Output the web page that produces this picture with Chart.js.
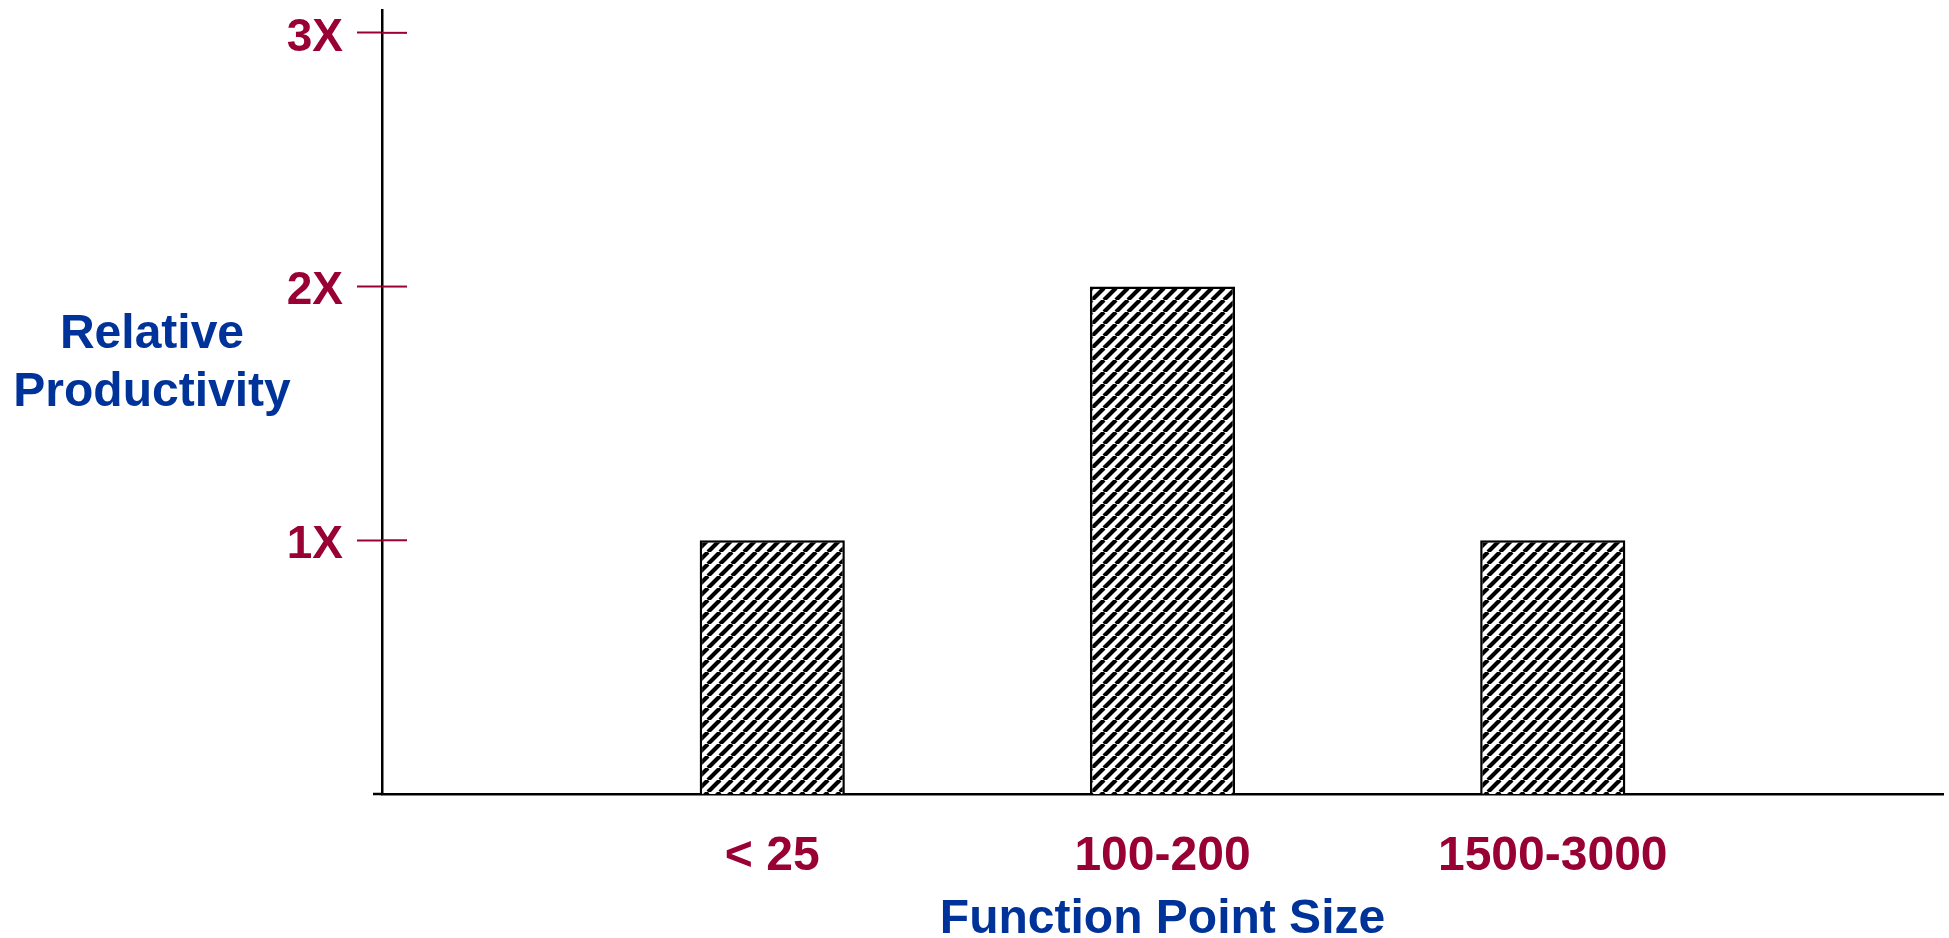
<!DOCTYPE html>
<html>
<head>
<meta charset="utf-8">
<script src="https://cdn.jsdelivr.net/npm/chart.js@4/dist/chart.umd.min.js"></script>
<style>
  html, body { margin: 0; padding: 0; background: #fff; }
</style>
</head>
<body>
<canvas id="chart" width="1949" height="938"></canvas>
<script>
// Data
const categories = ['', '< 25', '100-200', '1500-3000', ''];
const productivity = [null, 1, 2, 1, null];
const yTickValues = [1, 2, 3];
const yTickLabels = ['1X', '2X', '3X'];
const yTitleLines = ['Relative', 'Productivity'];
const xTitle = 'Function Point Size';

const MAROON = '#990033';
const BLUE = '#003399';
const FONT = '"Liberation Sans", Arial, Helvetica, sans-serif';

// diagonal "/" hatch fill for the bars
function hatch() {
    const n = 12;
    const c = document.createElement('canvas');
    c.width = c.height = n;
    const g = c.getContext('2d');
    g.fillStyle = '#fff';
    g.fillRect(0, 0, n, n);
    g.strokeStyle = '#000';
    g.lineWidth = 4.2;
    g.beginPath();
    for (const o of [-n, 0, n]) { g.moveTo(o, n); g.lineTo(o + n, 0); }
    g.stroke();
    return g.createPattern(c, 'repeat');
}

// right half of the tick crosses, axis stub and the horizontal y title
const extras = {
    id: 'extras',
    afterDraw(chart) {
        const { ctx, chartArea: a, scales: { y } } = chart;
        ctx.save();
        ctx.strokeStyle = MAROON;
        ctx.lineWidth = 2;
        yTickValues.forEach(v => {
            const py = y.getPixelForValue(v);
            ctx.beginPath();
            ctx.moveTo(a.left, py);
            ctx.lineTo(a.left + 25, py);
            ctx.stroke();
        });

        ctx.strokeStyle = '#000';
        ctx.lineWidth = 2.5;
        ctx.beginPath();
        ctx.moveTo(a.left - 9, a.bottom);
        ctx.lineTo(a.left, a.bottom);
        ctx.stroke();

        ctx.fillStyle = BLUE;
        ctx.font = `bold 48px ${FONT}`;
        ctx.textAlign = 'center';
        ctx.textBaseline = 'middle';
        yTitleLines.forEach((t, i) => ctx.fillText(t, 152, 335 + i * 58));
        ctx.restore();
    }
};

new Chart(document.getElementById('chart'), {
    type: 'bar',
    data: {
        labels: categories,
        datasets: [{
            data: productivity,
            backgroundColor: hatch(),
            borderColor: '#000',
            borderWidth: 2.5,
            barPercentage: 0.372,
            categoryPercentage: 1
        }]
    },
    options: {
        responsive: false,
        animation: false,
        layout: { padding: { top: 10, right: 6, left: 0, bottom: 0 } },
        plugins: { legend: { display: false }, tooltip: { enabled: false } },
        scales: {
            x: {
                offset: false,
                grid: { display: false },
                border: { color: '#000', width: 2.5 },
                ticks: {
                    color: MAROON, padding: 26, maxRotation: 0, autoSkip: false,
                    font: { family: FONT, size: 48, weight: 'bold' }
                },
                title: {
                    display: true, text: xTitle, color: BLUE, padding: 0,
                    font: { family: FONT, size: 48, weight: 'bold', lineHeight: 0.75 }
                },
                afterFit: s => {
                    s.height = 144;
                    s.paddingLeft = 0;
                    s.paddingRight = 0;
                }
            },
            y: {
                min: 0,
                max: 3.09,
                afterBuildTicks: s => { s.ticks = yTickValues.map(v => ({ value: v })); },
                afterFit: s => {
                    s.width = 382;
                    s.paddingTop = 0;
                    s.paddingBottom = 0;
                },
                grid: { drawOnChartArea: false, tickLength: 25, tickColor: MAROON, tickWidth: 2 },
                border: { color: '#000', width: 2.5 },
                ticks: {
                    color: MAROON, padding: 14, labelOffset: 5,
                    font: { family: FONT, size: 46, weight: 'bold' },
                    callback: (v, i) => yTickLabels[i]
                }
            }
        }
    },
    plugins: [extras]
});
</script>
</body>
</html>
